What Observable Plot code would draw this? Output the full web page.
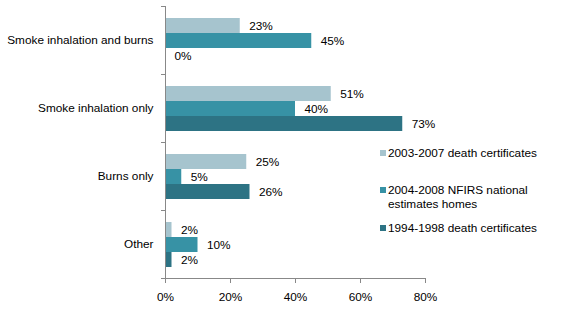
<!DOCTYPE html>
<html>
<head>
<meta charset="utf-8">
<script src="https://cdn.jsdelivr.net/npm/d3@7"></script>
<script src="https://cdn.jsdelivr.net/npm/@observablehq/plot@0.6"></script>
<style>
  body { margin: 0; background: #fff; }
  #wrap { position: relative; width: 575px; height: 323px; font-family: Arial, "Liberation Sans", sans-serif; font-size: 11.8px; color: #000; }
  .lg { position: absolute; left: 388px; line-height: 14px; white-space: nowrap; }
  .sw { position: absolute; left: 380px; width: 6px; height: 6px; }
</style>
</head>
<body>
<div id="wrap"></div>
<script>
const categories = ["Smoke inhalation and burns", "Smoke inhalation only", "Burns only", "Other"];
const series = ["2003-2007 death certificates", "2004-2008 NFIRS national estimates homes", "1994-1998 death certificates"];
const v2003_2007 = [23, 51, 25, 2];
const vNfirs = [45, 40, 5, 10];
const v1994_1998 = [0, 73, 26, 2];
const xTicks = [0, 20, 40, 60, 80];
const colors = ["#a6c4ce", "#3792a5", "#2d7384"];

const seriesValues = [v2003_2007, vNfirs, v1994_1998];
const data = categories.flatMap((c, i) => series.map((s, j) => ({category: c, series: s, value: seriesValues[j][i]})));

const chart = Plot.plot({
  width: 575,
  height: 323,
  marginLeft: 165,
  marginRight: 150,
  marginTop: 5,
  marginBottom: 44.5,
  style: {fontFamily: "Arial, 'Liberation Sans', sans-serif", fontSize: "11.8px", color: "#000", background: "#fff"},
  x: {domain: [0, 80]},
  y: {domain: series, paddingInner: 0, paddingOuter: 0.75, axis: null},
  fy: {domain: categories, padding: 0},
  color: {domain: series, range: colors},
  marks: [
    Plot.barX(data, {x: "value", y: "series", fy: "category", fill: "series"}),
    Plot.text(data, {x: "value", y: "series", fy: "category", text: d => d.value + "%", textAnchor: "start", dx: 9, fill: "#000"}),
    Plot.ruleX([0], {stroke: "#888"}),
    Plot.frame({anchor: "top", insetLeft: -4, insetRight: 260, stroke: "#888"}),
    Plot.frame({anchor: "bottom", facetAnchor: "bottom", insetLeft: -4, stroke: "#888"}),
    Plot.axisX({ticks: xTicks, tickFormat: d => d + "%", tickSize: 5, tickPadding: 9, stroke: "#888", fill: "#000", label: null}),
    Plot.axisFy({anchor: "left", tickSize: 0, tickPadding: 12, fill: "#000", label: null})
  ]
});

const wrap = document.getElementById("wrap");
wrap.appendChild(chart);

const legendPos = [{sq: 150, tx: 146}, {sq: 187, tx: 183}, {sq: 225, tx: 221}];
const legendLines = [["2003-2007 death certificates"], ["2004-2008 NFIRS national", "estimates homes"], ["1994-1998 death certificates"]];
series.forEach((s, i) => {
  const sw = document.createElement("div");
  sw.className = "sw";
  sw.style.top = legendPos[i].sq + "px";
  sw.style.background = colors[i];
  wrap.appendChild(sw);
  const t = document.createElement("div");
  t.className = "lg";
  t.style.top = legendPos[i].tx + "px";
  t.innerHTML = legendLines[i].join("<br>");
  wrap.appendChild(t);
});
const svg = wrap.querySelector("svg");
svg.style.position = "absolute";
svg.style.left = "0";
svg.style.top = "0";
</script>
</body>
</html>
